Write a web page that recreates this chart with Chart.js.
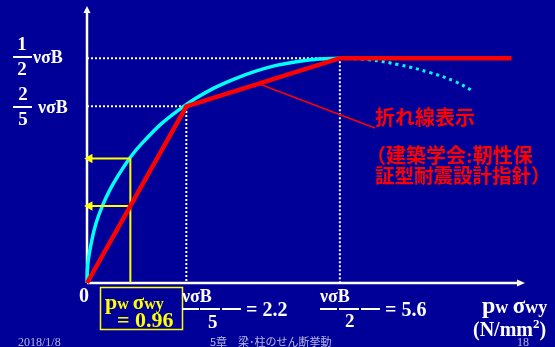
<!DOCTYPE html>
<html>
<head>
<meta charset="utf-8">
<script src="https://cdn.jsdelivr.net/npm/chart.js@4/dist/chart.umd.min.js"></script>
<style>
  html, body { margin: 0; padding: 0; background: #000099; }
  #wrap { width: 555px; height: 347px; }
</style>
</head>
<body>
<div id="wrap"><canvas id="shearChart" width="555" height="347"></canvas></div>
<script>
// values (N/mm2)
const polyX = [0, 2.2, 5.6, 9.4];          // 折れ線 (AIJ)
const polyY = [0, 4.4, 5.6, 5.6];
const curveX = [0, 0.02, 0.09, 0.19, 0.34, 0.53, 0.76, 1.02, 1.32, 1.65, 2.02, 2.41, 2.82, 3.26, 3.72, 4.19, 4.67, 5.15, 5.6];
const curveY = [0, 0.49, 0.97, 1.45, 1.92, 2.37, 2.8, 3.22, 3.6, 3.97, 4.3, 4.6, 4.86, 5.08, 5.27, 5.42, 5.52, 5.58, 5.6];
const flatX = [5.6, 9.35];
const flatY = [5.6, 5.6];
const dropX = [5.6, 6.25, 6.9, 7.6, 8.15, 8.55];   // dotted continuation
const dropY = [5.6, 5.56, 5.44, 5.24, 5.02, 4.78];
const highX = [0, 5.6, 5.6];   // νσB/2
const highY = [5.6, 5.6, 0];
const lowX = [0, 2.2, 2.2];    // νσB/5 , 2νσB/5
const lowY = [4.4, 4.4, 0];
const pwValue = 0.96;
const readCurve = 3.1;   // curve at pw σwy = 0.96
const readPoly = 1.92;   // polyline at pw σwy = 0.96

const pts = (xs, ys) => xs.map((x, i) => ({ x: x, y: ys[i] }));

const serif = '"Liberation Serif", "Times New Roman", serif';
const jp = '"Noto Sans CJK JP", sans-serif';

// draw text made of pieces with different fonts on one baseline
function runs(ctx, x, y, parts, color) {
    ctx.fillStyle = color;
    parts.forEach(p => {
        ctx.font = p[1];
        ctx.fillText(p[0], x, y + (p[2] || 0));
        x += ctx.measureText(p[0]).width;
    });
}

function frac(ctx, cx, top, bottom, barY, x0, x1) {
    ctx.font = 'bold 19px ' + serif;
    ctx.textAlign = 'center';
    ctx.fillText(top, cx, barY - 7);
    ctx.fillText(bottom, cx, barY + 18);
    ctx.textAlign = 'left';
    ctx.fillRect(x0, barY - 1, x1 - x0, 2);
}

function pwLabel(ctx, x, y, color, big) {
    runs(ctx, x, y, [['p', 'bold ' + big + 'px ' + serif], ['w ', 'bold ' + (big - 6) + 'px ' + serif],
        ['σ', 'bold ' + (big - 1) + 'px ' + serif], ['wy', 'bold ' + (big - 6) + 'px ' + serif]], color);
}

const slidePlugin = {
    id: 'slide',
    beforeDraw(chart) {
        const ctx = chart.ctx;
        ctx.save();
        ctx.fillStyle = '#000099';
        ctx.fillRect(0, 0, chart.width, chart.height);
        ctx.restore();
    },
    beforeDatasetsDraw(chart) {
        const ctx = chart.ctx;
        const a = chart.chartArea;
        ctx.save();
        ctx.strokeStyle = '#ffffff';
        ctx.fillStyle = '#ffffff';
        ctx.lineWidth = 2.5;
        ctx.beginPath();
        ctx.moveTo(a.left, a.bottom);
        ctx.lineTo(a.left, a.top + 5);
        ctx.moveTo(a.left, a.bottom);
        ctx.lineTo(a.right - 6, a.bottom);
        ctx.stroke();
        ctx.beginPath();
        ctx.moveTo(a.left, a.top);
        ctx.lineTo(a.left - 3.5, a.top + 7);
        ctx.lineTo(a.left + 3.5, a.top + 7);
        ctx.fill();
        ctx.beginPath();
        ctx.moveTo(a.right, a.bottom);
        ctx.lineTo(a.right - 8, a.bottom - 3.5);
        ctx.lineTo(a.right - 8, a.bottom + 3.5);
        ctx.fill();
        ctx.restore();
    },
    afterDraw(chart) {
        const ctx = chart.ctx;
        const xs = chart.scales.x, ys = chart.scales.y;
        ctx.save();
        ctx.textBaseline = 'alphabetic';

        // leader line from the polyline to its label
        const lx = 3.8;
        const ly = polyY[1] + (lx - polyX[1]) / (polyX[2] - polyX[1]) * (polyY[2] - polyY[1]);
        ctx.strokeStyle = '#ff0000';
        ctx.lineWidth = 1.5;
        ctx.beginPath();
        ctx.moveTo(xs.getPixelForValue(lx), ys.getPixelForValue(ly));
        ctx.lineTo(375, 128);
        ctx.stroke();

        // left y labels
        ctx.fillStyle = '#ffffff';
        frac(ctx, 22, '1', '2', 57, 13, 32);
        ctx.font = 'bold 18px ' + serif;
        ctx.fillText('νσB', 33, 63);
        frac(ctx, 23, '2', '5', 107, 13, 32);
        ctx.font = 'bold 18px ' + serif;
        ctx.fillText('νσB', 38, 113);

        // origin
        ctx.font = 'bold 20px ' + serif;
        ctx.textAlign = 'center';
        ctx.fillText('0', 84, 302);
        ctx.textAlign = 'left';

        // yellow box
        ctx.strokeStyle = '#ffff00';
        ctx.lineWidth = 1.5;
        ctx.strokeRect(100.5, 287.5, 82, 42);
        pwLabel(ctx, 105, 309, '#ffff00', 22);
        ctx.font = 'bold 22px ' + serif;
        ctx.fillText('= 0.96', 117, 327);

        // x labels
        ctx.fillStyle = '#ffffff';
        ctx.font = 'bold 18px ' + serif;
        ctx.fillText('νσB', 182, 302);
        ctx.fillRect(182, 308, 17, 2);
        ctx.fillRect(200, 308, 20, 2);
        ctx.fillRect(222, 308, 19, 2);
        ctx.font = 'bold 19px ' + serif;
        ctx.fillText('5', 208, 328);
        ctx.font = 'bold 20px ' + serif;
        ctx.fillText('= 2.2', 246, 316);

        ctx.font = 'bold 18px ' + serif;
        ctx.fillText('νσB', 320, 302);
        ctx.fillRect(320, 308, 17, 2);
        ctx.fillRect(339, 308, 20, 2);
        ctx.fillRect(361, 308, 19, 2);
        ctx.font = 'bold 19px ' + serif;
        ctx.fillText('2', 345, 327);
        ctx.font = 'bold 20px ' + serif;
        ctx.fillText('= 5.6', 385, 316);

        pwLabel(ctx, 482, 313, '#ffffff', 24);
        runs(ctx, 473, 336, [['(N/mm', 'bold 20px ' + serif], ['2', 'bold 13px ' + serif, -8],
            [')', 'bold 20px ' + serif]], '#ffffff');

        // red notes
        ctx.fillStyle = '#ff0000';
        ctx.font = 'bold 20px ' + jp;
        ctx.fillText('折れ線表示', 375, 125);
        runs(ctx, 366, 163, [['（建築学会', 'bold 20px ' + jp], [':', 'bold 20px ' + serif],
            ['靭性保', 'bold 20px ' + jp]], '#ff0000');
        ctx.font = 'bold 19.5px ' + jp;
        ctx.fillText('証型耐震設計指針）', 375, 183);

        // footer
        ctx.fillStyle = '#b8b8dd';
        ctx.font = '12px ' + serif;
        ctx.fillText('2018/1/8', 18, 346);
        ctx.font = '11px ' + jp;
        ctx.fillText('5章　梁･柱のせん断挙動', 210, 346);
        ctx.font = '12px ' + serif;
        ctx.fillText('18', 517, 346);
        ctx.restore();
    }
};

new Chart(document.getElementById('shearChart'), {
    type: 'line',
    data: {
        datasets: [
            {   // polyline
                data: pts(polyX, polyY),
                borderColor: '#ff0000',
                borderWidth: 4.5,
                pointRadius: 0,
                tension: 0,
                clip: false
            },
            {   // readings on the axis
                data: [{ x: pwValue, y: readCurve }, { x: 0.06, y: readCurve }],
                borderColor: '#ffff00',
                backgroundColor: '#ffff00',
                borderWidth: 2,
                pointStyle: 'triangle',
                pointRotation: 270,
                pointRadius: [0, 3.5],
                clip: false
            },
            {
                data: [{ x: pwValue, y: readPoly }, { x: 0.06, y: readPoly }],
                borderColor: '#ffff00',
                backgroundColor: '#ffff00',
                borderWidth: 2,
                pointStyle: 'triangle',
                pointRotation: 270,
                pointRadius: [0, 3.5],
                clip: false
            },
            {
                data: [{ x: pwValue, y: 0 }, { x: pwValue, y: readCurve }],
                borderColor: '#ffff00',
                borderWidth: 2,
                pointRadius: 0,
                clip: false
            },
            {   // curve
                data: pts(curveX, curveY),
                borderColor: '#00ffff',
                borderWidth: 3.5,
                pointRadius: 0,
                tension: 0.4,
                clip: false
            },
            {
                data: pts(flatX, flatY),
                borderColor: '#00ffff',
                borderWidth: 3.5,
                pointRadius: 0,
                clip: false
            },
            {
                data: pts(dropX, dropY),
                borderColor: '#00ffff',
                borderWidth: 3,
                borderDash: [3, 4],
                pointRadius: 0,
                tension: 0.4,
                clip: false
            },
            {
                data: pts(highX, highY),
                borderColor: '#ffffff',
                borderWidth: 2,
                borderDash: [2, 2],
                pointRadius: 0,
                clip: false
            },
            {
                data: pts(lowX, lowY),
                borderColor: '#ffffff',
                borderWidth: 2,
                borderDash: [2, 2],
                pointRadius: 0,
                clip: false
            }
        ]
    },
    options: {
        responsive: false,
        animation: false,
        devicePixelRatio: 1,
        layout: { padding: { left: 87, top: 0, right: 30, bottom: 64 } },
        scales: {
            x: { type: 'linear', min: 0, max: 9.7, display: false },
            y: { type: 'linear', min: 0, max: 6.9, display: false }
        },
        plugins: {
            legend: { display: false },
            tooltip: { enabled: false }
        }
    },
    plugins: [slidePlugin]
});
</script>
</body>
</html>
